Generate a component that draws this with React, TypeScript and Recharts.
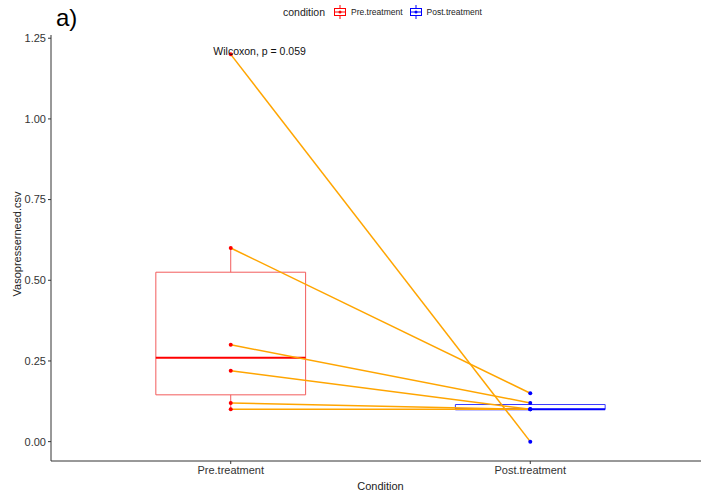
import {
  ComposedChart,
  Line,
  Scatter,
  XAxis,
  YAxis,
  ReferenceArea,
  ReferenceLine,
  ReferenceDot,
} from "recharts";

const categories = ["Pre.treatment", "Post.treatment"];
const preValues = [1.2, 0.6, 0.3, 0.22, 0.12, 0.1];
const postValues = [0, 0.15, 0.12, 0.1, 0.1, 0.1];
const yTicks = [0, 0.25, 0.5, 0.75, 1.0, 1.25];
const pLabel = "Wilcoxon, p = 0.059";

const FONT = "'Liberation Sans', Arial, sans-serif";

// type 7 quantile, same as R's default
const quantile = (vals: number[], p: number) => {
  const s = [...vals].sort((a, b) => a - b);
  const h = (s.length - 1) * p;
  const lo = Math.floor(h);
  const hi = Math.ceil(h);
  return s[lo] + (h - lo) * (s[hi] - s[lo]);
};

const boxStats = (vals: number[]) => {
  const q1 = quantile(vals, 0.25);
  const med = quantile(vals, 0.5);
  const q3 = quantile(vals, 0.75);
  const iqr = q3 - q1;
  const upper = Math.max(...vals.filter((v) => v <= q3 + 1.5 * iqr));
  const lower = Math.min(...vals.filter((v) => v >= q1 - 1.5 * iqr));
  return { q1, med, q3, upper, lower };
};

const groups = [
  { x: 1, values: preValues, stroke: "#F25C5C", median: "#FF0000", point: "#FF0000" },
  { x: 2, values: postValues, stroke: "#3A3AFF", median: "#0000FF", point: "#0000FF" },
];

const pairs = preValues.map((v, i) => [
  { x: 1, y: v },
  { x: 2, y: postValues[i] },
]);

const HALF = 0.25;

const dot = (color: string) => (props: any) =>
  <circle cx={props.cx} cy={props.cy} r={2} fill={color} />;

const LegendIcon = ({ color }: { color: string }) => (
  <svg width={12} height={14} style={{ verticalAlign: "middle" }}>
    <line x1={6} y1={0} x2={6} y2={14} stroke={color} strokeWidth={1} />
    <rect x={0.5} y={3.5} width={11} height={7} fill="white" stroke={color} strokeWidth={1} />
    <line x1={0.5} y1={7} x2={11.5} y2={7} stroke={color} strokeWidth={1} />
    <circle cx={6} cy={7} r={1.5} fill={color} />
  </svg>
);

const App = () => {
  return (
    <div
      style={{
        position: "absolute",
        left: 0,
        top: 0,
        width: 701,
        height: 492,
        overflow: "hidden",
        background: "#fff",
        fontFamily: FONT,
      }}
    >
      <div style={{ position: "absolute", left: 56, top: 4, fontSize: 24, lineHeight: "28px", color: "#000" }}>
        a)
      </div>

      <div
        style={{
          position: "absolute",
          left: 283,
          top: 5,
          fontSize: 10.5,
          color: "#222",
          display: "flex",
          alignItems: "center",
          whiteSpace: "nowrap",
        }}
      >
        <span style={{ marginRight: 9 }}>condition</span>
        <LegendIcon color="#FF0000" />
        <span style={{ fontSize: 8.5, marginLeft: 5, marginRight: 7 }}>{categories[0]}</span>
        <LegendIcon color="#0000FF" />
        <span style={{ fontSize: 8.5, marginLeft: 5 }}>{categories[1]}</span>
      </div>

      <ComposedChart
        width={710}
        height={492}
        margin={{ top: 35, right: 0, bottom: 0, left: 0 }}
        style={{ fontFamily: FONT }}
      >
        <XAxis
          type="number"
          dataKey="x"
          domain={[0.4, 2.6]}
          ticks={[1, 2]}
          tickFormatter={(v: number) => categories[v - 1]}
          height={31}
          allowDataOverflow
          stroke="#333"
          tickSize={3}
          tick={{ fill: "#333", fontSize: 11 }}
          label={{ value: "Condition", position: "insideBottom", offset: 2, fill: "#222", fontSize: 11 }}
        />
        <YAxis
          type="number"
          dataKey="y"
          domain={[-0.06, 1.26]}
          ticks={yTicks}
          allowDataOverflow
          width={51}
          stroke="#333"
          tickSize={3}
          tickFormatter={(v: number) => v.toFixed(2)}
          tick={{ fill: "#333", fontSize: 11 }}
          label={{
            value: "Vasopresserneed.csv",
            angle: -90,
            position: "insideLeft",
            offset: 17,
            dy: -4,
            style: { textAnchor: "middle" },
            fill: "#222",
            fontSize: 11,
          }}
        />

        {groups.map((g) => {
          const s = boxStats(g.values);
          return [
            <ReferenceLine
              key={`wu${g.x}`}
              segment={[{ x: g.x, y: s.q3 }, { x: g.x, y: s.upper }]}
              stroke={g.stroke}
              strokeWidth={1}
            />,
            <ReferenceLine
              key={`wl${g.x}`}
              segment={[{ x: g.x, y: s.q1 }, { x: g.x, y: s.lower }]}
              stroke={g.stroke}
              strokeWidth={1}
            />,
            <ReferenceArea
              key={`b${g.x}`}
              x1={g.x - HALF}
              x2={g.x + HALF}
              y1={s.q1}
              y2={s.q3}
              fill="none"
              fillOpacity={0}
              stroke={g.stroke}
              strokeOpacity={1}
              strokeWidth={1}
            />,
            <ReferenceLine
              key={`m${g.x}`}
              segment={[{ x: g.x - HALF, y: s.med }, { x: g.x + HALF, y: s.med }]}
              stroke={g.median}
              strokeWidth={2}
            />,
          ];
        })}

        {pairs.map((p, i) => (
          <Line
            key={`pair${i}`}
            data={p}
            dataKey="y"
            stroke="#FFA500"
            strokeWidth={1.5}
            dot={false}
            activeDot={false}
            isAnimationActive={false}
          />
        ))}

        {groups.map((g) => (
          <Scatter
            key={`pts${g.x}`}
            data={g.values.map((v) => ({ x: g.x, y: v }))}
            dataKey="y"
            shape={dot(g.point)}
            isAnimationActive={false}
          />
        ))}

        <ReferenceDot
          x={0.942}
          y={1.21}
          r={0}
          stroke="none"
          label={(props: any) => (
            <text
              x={props.viewBox.cx ?? props.viewBox.x}
              y={(props.viewBox.cy ?? props.viewBox.y) + 4}
              fontSize={10.5}
              fill="#111"
              textAnchor="start"
            >
              {pLabel}
            </text>
          )}
        />
      </ComposedChart>
    </div>
  );
};

export default App;
